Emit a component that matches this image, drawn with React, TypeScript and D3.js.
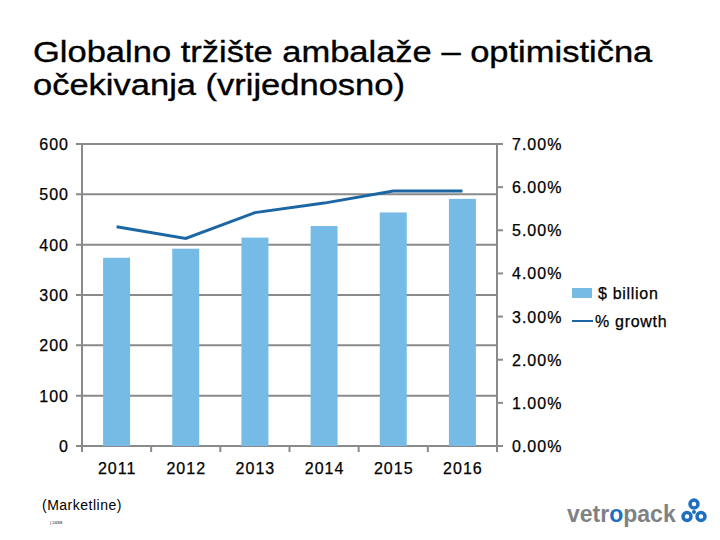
import React from 'react'
import * as d3 from 'd3'

const years = ['2011', '2012', '2013', '2014', '2015', '2016']
const billions = [374, 392, 414, 437, 464, 491]
const growth = [5.08, 4.81, 5.41, 5.63, 5.91, 5.91]
const leftTicks = [0, 100, 200, 300, 400, 500, 600]
const rightTicks = [0, 1, 2, 3, 4, 5, 6, 7]

const FONT = '"Liberation Sans", Arial, sans-serif'
const GRID = '#8a8a8a'
const BAR = '#75bbe6'
const LINE = '#1c67a3'

// slightly heavier, wider text like the old slide rendering
const txt = {fontFamily: FONT, fill: '#000', stroke: '#000', strokeWidth: 0.25}

export default function App() {
  const left = 82, right = 497, top = 144, bottom = 446

  const x = d3.scaleBand().domain(years).range([left, right]).paddingInner(0.61).paddingOuter(0.305)
  const y = d3.scaleLinear().domain([0, 600]).range([bottom, top])
  const yr = d3.scaleLinear().domain([0, 7]).range([bottom, top])
  const xc = (d: string) => (x(d) as number) + x.bandwidth() / 2

  const line = d3.line<number>()
    .x((_, i) => xc(years[i]))
    .y(d => yr(d))

  const step = (right - left) / years.length

  return (
    <svg width={720} height={540} style={{position: 'absolute', left: 0, top: 0, background: '#fff'}}>
      <g transform='translate(33,0) scale(1.19,1)'>
        <text x={0} y={62} {...txt} strokeWidth={0.35} fontSize={29}>Globalno tržište ambalaže – optimistična</text>
        <text x={0} y={95} {...txt} strokeWidth={0.35} fontSize={29}>očekivanja (vrijednosno)</text>
      </g>

      {leftTicks.map(t => (
        <g key={'l' + t}>
          <line x1={left - 6} x2={right} y1={y(t)} y2={y(t)} stroke={GRID} strokeWidth={2} />
          <text x={69} y={y(t) + 6} textAnchor='end' {...txt} fontSize={16} letterSpacing={1}>{t}</text>
        </g>
      ))}
      <line x1={left} x2={left} y1={top} y2={bottom} stroke={GRID} strokeWidth={2} />
      <line x1={right} x2={right} y1={top} y2={bottom + 6} stroke={GRID} strokeWidth={2} />
      {rightTicks.map(t => (
        <g key={'r' + t}>
          <line x1={right} x2={right + 6} y1={yr(t)} y2={yr(t)} stroke={GRID} strokeWidth={2} />
          <text x={512} y={yr(t) + 6} {...txt} fontSize={16} letterSpacing={1}>{t.toFixed(2) + '%'}</text>
        </g>
      ))}
      {years.map((d, i) => (
        <line key={'xt' + d} x1={left + step * i} x2={left + step * i} y1={bottom} y2={bottom + 6} stroke={GRID} strokeWidth={2} />
      ))}

      {billions.map((v, i) => (
        <rect key={'b' + i} x={x(years[i])} y={y(v)} width={x.bandwidth()} height={bottom - y(v)} fill={BAR} />
      ))}
      <path d={line(growth) || ''} fill='none' stroke={LINE} strokeWidth={3} />

      {years.map(d => (
        <text key={'xl' + d} x={xc(d) + 0.5} y={474} textAnchor='middle' {...txt} fontSize={16} letterSpacing={1}>{d}</text>
      ))}

      <rect x={572} y={288} width={20} height={10} fill={BAR} />
      <text x={598} y={299} {...txt} fontSize={16} letterSpacing={0.7}>$ billion</text>
      <line x1={572} x2={593} y1={321} y2={321} stroke={LINE} strokeWidth={2} />
      <text x={595} y={327} {...txt} fontSize={16} letterSpacing={0.7}>% growth</text>

      <text x={42} y={510} fontFamily={FONT} fontSize={14} letterSpacing={0.5}>(Marketline)</text>
      <text x={50} y={524} fontFamily={FONT} fontSize={4}>| 24/68</text>

      <text x={567} y={522} fontFamily={FONT} fontSize={23} fontWeight='bold' fill='#7f8285'>
        vetr<tspan fill='#1f6fc0'>o</tspan>pack
      </text>
      <g transform='translate(694,511)' fill='none' stroke='#1f6fc0' strokeWidth={3.5}>
        <circle cx={0} cy={-7} r={4} />
        <circle cx={-7} cy={5.5} r={4} />
        <circle cx={7} cy={5.5} r={4} />
        <circle cx={0} cy={1} r={2} fill='#1f6fc0' stroke='none' />
      </g>
    </svg>
  )
}
